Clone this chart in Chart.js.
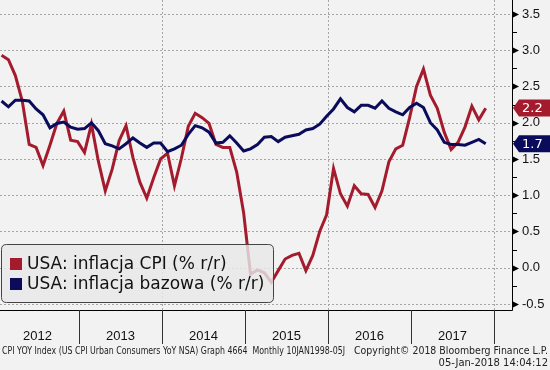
<!DOCTYPE html>
<html><head><meta charset="utf-8">
<script src="https://cdn.jsdelivr.net/npm/chart.js@4/dist/chart.umd.min.js"></script>
<style>html,body{margin:0;padding:0;background:#f2f2f2;overflow:hidden}#wrap{width:550px;height:370px}</style>
</head><body><div id="wrap"><canvas id="c" width="550" height="370"></canvas></div>
<script>
// Monthly categories Jan 2012 .. Nov 2017
const years = ['2012','2013','2014','2015','2016','2017'];
const months = [];
for (const y of years) for (let m = 1; m <= 12; m++) { if (y === '2017' && m === 12) break; months.push(y + '-' + String(m).padStart(2,'0')); }

// USA CPI y/y (%)
const cpi = [
  2.93, 2.87, 2.65, 2.30, 1.70, 1.66, 1.41, 1.69, 1.99, 2.16, 1.76, 1.74,
  1.59, 1.98, 1.47, 1.06, 1.36, 1.75, 1.96, 1.52, 1.18, 0.96, 1.24, 1.50,
  1.58, 1.13, 1.51, 1.95, 2.13, 2.07, 1.99, 1.70, 1.66, 1.66, 1.32, 0.76,
  -0.09, -0.03, -0.07, -0.20, -0.04, 0.12, 0.17, 0.20, -0.04, 0.17, 0.50, 0.73,
  1.37, 1.02, 0.85, 1.13, 1.02, 1.01, 0.83, 1.06, 1.46, 1.64, 1.69, 2.07,
  2.50, 2.74, 2.38, 2.20, 1.87, 1.63, 1.73, 1.94, 2.23, 2.04, 2.20
];
// USA core CPI y/y (%)
const core = [
  2.30, 2.22, 2.31, 2.31, 2.30, 2.19, 2.11, 1.93, 1.99, 2.01, 1.94, 1.91,
  1.92, 2.00, 1.89, 1.71, 1.68, 1.64, 1.71, 1.79, 1.72, 1.66, 1.72, 1.72,
  1.60, 1.64, 1.69, 1.84, 1.96, 1.93, 1.87, 1.72, 1.73, 1.82, 1.72, 1.61,
  1.64, 1.70, 1.80, 1.81, 1.74, 1.80, 1.82, 1.84, 1.90, 1.92, 1.98, 2.09,
  2.19, 2.33, 2.21, 2.15, 2.24, 2.24, 2.20, 2.30, 2.20, 2.15, 2.11, 2.21,
  2.27, 2.21, 2.00, 1.90, 1.73, 1.70, 1.70, 1.69, 1.73, 1.77, 1.71
];
const yTickValues = [-0.5, 0, 0.5, 1, 1.5, 2, 2.5, 3, 3.5];
const seriesNames = ['USA: inflacja CPI (% r/r)', 'USA: inflacja bazowa (% r/r)'];
const lastLabels = ['2.2', '1.7'];
const footerLeft = 'CPI YOY Index (US CPI Urban Consumers YoY NSA) Graph 4664  Monthly 10JAN1998-05J';
const footerRight1 = 'Copyright\u00A9 2018 Bloomberg Finance L.P.';
const footerRight2 = '05-Jan-2018 14:04:12';

const RED = '#a31b2d', BLUE = '#0b0b5c';
const BG = '#f2f2f2';

const cpiPts = cpi.map((v, i) => ({x: i, y: v}));
const corePts = core.map((v, i) => ({x: i, y: v}));
const yearStart = (k) => 12 * k - 0.8;   // month-index position of a year boundary

const deco = {
  id: 'deco',
  beforeDraw(chart) {
    const c = chart.ctx;
    c.save(); c.fillStyle = BG; c.fillRect(0, 0, chart.width, chart.height); c.restore();
  },
  beforeDatasetsDraw(chart) {
    const c = chart.ctx, a = chart.chartArea, xs = chart.scales.x, ys = chart.scales.y;
    c.save();
    c.strokeStyle = '#a6a6a6'; c.lineWidth = 1; c.setLineDash([2, 2]);
    for (const v of yTickValues) {
      const y = Math.round(ys.getPixelForValue(v)) + 0.5;
      c.beginPath(); c.moveTo(a.left, y); c.lineTo(a.right, y); c.stroke();
    }
    for (const k of [2, 4, 6]) {
      const x = Math.round(xs.getPixelForValue(yearStart(k))) + 0.5;
      c.beginPath(); c.moveTo(x, a.top); c.lineTo(x, a.bottom); c.stroke();
    }
    c.restore();
  },
  afterDatasetsDraw(chart) {
    const c = chart.ctx, a = chart.chartArea, xs = chart.scales.x, ys = chart.scales.y;
    c.save();
    // axes
    c.strokeStyle = '#000'; c.lineWidth = 1; c.setLineDash([]);
    c.beginPath(); c.moveTo(a.left, a.bottom + 0.5); c.lineTo(a.right + 0.5, a.bottom + 0.5); c.stroke();
    c.beginPath(); c.moveTo(a.right + 0.5, a.top); c.lineTo(a.right + 0.5, a.bottom + 0.5); c.stroke();
    // y ticks: arrow at majors, short line at minors
    for (let v = -0.5; v <= 3.5001; v += 0.25) {
      const y = Math.round(ys.getPixelForValue(v)) + 0.5;
      if (Math.abs(v * 2 - Math.round(v * 2)) < 1e-6) {
        c.fillStyle = '#000';
        c.beginPath(); c.moveTo(a.right + 1, y - 3); c.lineTo(a.right + 7, y); c.lineTo(a.right + 1, y + 3); c.closePath(); c.fill();
      } else {
        c.beginPath(); c.moveTo(a.right, y); c.lineTo(a.right + 5, y); c.stroke();
      }
    }
    // year separators and labels
    c.strokeStyle = '#333';
    for (let k = 1; k <= 6; k++) {
      const x = Math.round(xs.getPixelForValue(yearStart(k))) + 0.5;
      c.beginPath(); c.moveTo(x, a.bottom); c.lineTo(x, a.bottom + 34); c.stroke();
    }
    c.fillStyle = '#111'; c.font = '13px "Liberation Sans", sans-serif';
    c.textAlign = 'center'; c.textBaseline = 'middle';
    years.forEach((yr, k) => {
      const x = xs.getPixelForValue(yearStart(k) + 6);
      c.fillText(yr, x, a.bottom + 26);
    });
    // legend box
    const lx = 1.5, ly = 244.5, lw = 272, lh = 58, r = 5;
    c.beginPath();
    c.moveTo(lx + r, ly); c.lineTo(lx + lw - r, ly); c.quadraticCurveTo(lx + lw, ly, lx + lw, ly + r);
    c.lineTo(lx + lw, ly + lh - r); c.quadraticCurveTo(lx + lw, ly + lh, lx + lw - r, ly + lh);
    c.lineTo(lx + r, ly + lh); c.quadraticCurveTo(lx, ly + lh, lx, ly + lh - r);
    c.lineTo(lx, ly + r); c.quadraticCurveTo(lx, ly, lx + r, ly); c.closePath();
    c.fillStyle = 'rgba(232,232,232,0.82)'; c.fill();
    c.strokeStyle = '#444'; c.lineWidth = 1; c.stroke();
    const rows = [264, 284], cols = [RED, BLUE];
    c.textAlign = 'left'; c.textBaseline = 'middle'; c.font = '17px "DejaVu Sans", sans-serif';
    seriesNames.forEach((n, i) => {
      c.fillStyle = cols[i]; c.fillRect(10, rows[i] - 6, 12, 12);
      c.fillStyle = '#111'; c.fillText(n, 27, rows[i] + 1);
    });
    // last-value tags
    const lastVals = [cpi[cpi.length - 1], core[core.length - 1]];
    lastVals.forEach((v, i) => {
      let y = ys.getPixelForValue(v);
      if (i === 0) y = Math.min(y, 108);
      if (i === 1) y = Math.max(y, 142);
      const x0 = a.right + 1, h = 17;
      c.fillStyle = cols[i];
      c.beginPath(); c.moveTo(x0, y); c.lineTo(x0 + 6, y - h / 2); c.lineTo(550, y - h / 2); c.lineTo(550, y + h / 2); c.lineTo(x0 + 6, y + h / 2); c.closePath(); c.fill();
      c.fillStyle = '#fff'; c.font = '13px "DejaVu Sans", sans-serif'; c.textAlign = 'left';
      c.fillText(lastLabels[i], 522, y + 1);
    });
    // footer
    c.fillStyle = '#222'; c.font = '10px "DejaVu Sans", sans-serif'; c.textBaseline = 'middle';
    c.textAlign = 'left'; c.fillText(footerLeft, 2, 351, 343);
    c.textAlign = 'right'; c.fillText(footerRight1, 548, 351, 194); c.fillText(footerRight2, 548, 363, 124);
    c.restore();
  }
};

new Chart(document.getElementById('c'), {
  type: 'line',
  data: {
    labels: months,
    datasets: [
      {label: seriesNames[1], data: corePts, borderColor: BLUE, borderWidth: 3, pointRadius: 0, tension: 0, fill: false},
      {label: seriesNames[0], data: cpiPts, borderColor: RED, borderWidth: 3, pointRadius: 0, tension: 0, fill: false}
    ]
  },
  options: {
    responsive: false, animation: false, devicePixelRatio: 1,
    layout: {padding: {left: 0, top: 0, right: 0, bottom: 60}},
    plugins: {legend: {display: false}, tooltip: {enabled: false}},
    scales: {
      x: {type: 'linear', min: -0.22, max: 73.8, display: false},
      y: {
        position: 'right', min: -0.583, max: 3.693,
        afterBuildTicks: (s) => { s.ticks = yTickValues.map(v => ({value: v})); },
        afterFit: (s) => { s.width = 38; s.paddingTop = 0; s.paddingBottom = 0; },
        grid: {display: false, drawTicks: false},
        border: {display: false},
        ticks: {padding: 10, autoSkip: false, color: '#111', font: {family: '"Liberation Sans", sans-serif', size: 13},
                callback: (v) => Number(v).toFixed(1)}
      }
    }
  },
  plugins: [deco]
});
</script>
</body></html>
